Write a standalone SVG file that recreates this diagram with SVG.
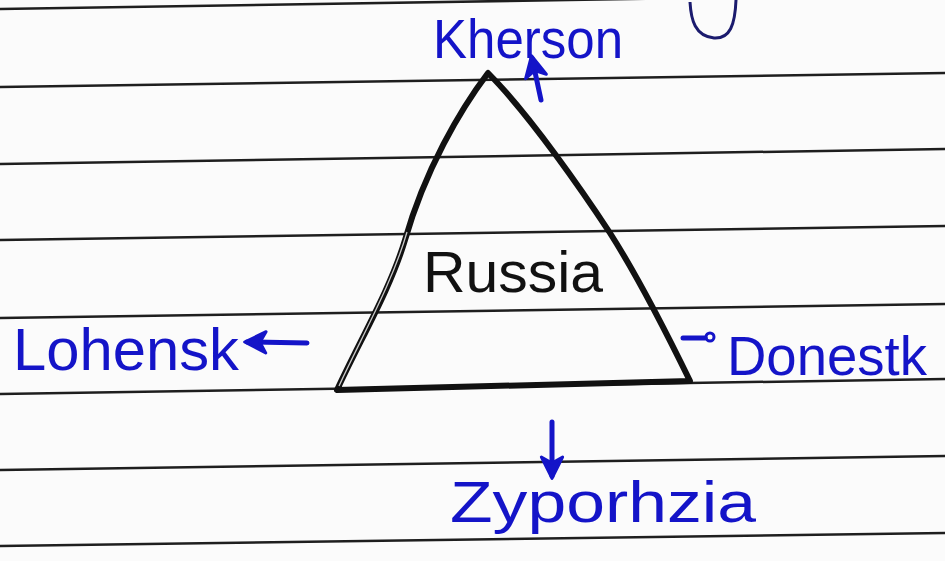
<svg xmlns="http://www.w3.org/2000/svg" width="945" height="561" viewBox="0 0 945 561">
  <style>
    .rule { stroke: #1e1e1e; stroke-width: 2.5; fill: none; }
    .ink { fill: #1414c8; font-family: "Liberation Sans", "DejaVu Sans", sans-serif; }
    .black { fill: #111; font-family: "Liberation Sans", "DejaVu Sans", sans-serif; }
    .arrow { stroke: #1414c8; stroke-width: 5; stroke-linecap: round; fill: none; }
    .tri { stroke: #111; stroke-width: 6; fill: none; stroke-linejoin: round; stroke-linecap: round; }
  </style>
  <defs>
    <marker id="head" markerUnits="userSpaceOnUse" markerWidth="26" markerHeight="26" viewBox="0 0 22 22" refX="18" refY="11" orient="auto">
      <path d="M2,2 L20,11 L2,20 L7,11 Z" fill="#1414c8" stroke="#1414c8" stroke-width="2.5" stroke-linejoin="round"/>
    </marker>
  </defs>
  <rect width="945" height="561" fill="#fbfbfb"/>
  <g id="ruled-paper">
    <line class="rule" x1="0" y1="9" x2="945" y2="-6"/>
    <line class="rule" x1="0" y1="87" x2="945" y2="73"/>
    <line class="rule" x1="0" y1="164" x2="945" y2="149"/>
    <line class="rule" x1="0" y1="240" x2="945" y2="226"/>
    <line class="rule" x1="0" y1="318" x2="945" y2="304"/>
    <line class="rule" x1="0" y1="394" x2="945" y2="379"/>
    <line class="rule" x1="0" y1="470" x2="945" y2="456"/>
    <line class="rule" x1="0" y1="546" x2="945" y2="533"/>
    <path d="M690,2 C691,20 695,36 714,38 C730,39 735,25 736,0" stroke="#1b1b6e" stroke-width="3" fill="none"/>
  </g>
  <g id="russia">
    <path class="tri" d="M488,73 C460,110 425,170 405,240 C390,290 360,340 337,390 L690,381 C670,340 640,280 610,233 C585,195 530,115 488,73 Z"/>
    <path d="M407,232 C392,284 362,336 339,386" stroke="#c8c8c8" stroke-width="1.3" fill="none"/>
    <text class="black" x="423" y="292" font-size="58" textLength="180" lengthAdjust="spacingAndGlyphs">Russia</text>
  </g>
  <g id="kherson">
    <text class="ink" x="433" y="58" font-size="56" textLength="190" lengthAdjust="spacingAndGlyphs">Kherson</text>
  </g>
  <g id="lohensk">
    <text class="ink" x="13" y="370" font-size="60" textLength="226" lengthAdjust="spacingAndGlyphs">Lohensk</text>
  </g>
  <g id="donestk">
    <text class="ink" x="727" y="375" font-size="55" textLength="200" lengthAdjust="spacingAndGlyphs">Donestk</text>
  </g>
  <g id="zyporhzia">
    <text class="ink" x="450" y="522" font-size="58" textLength="306" lengthAdjust="spacingAndGlyphs">Zyporhzia</text>
  </g>
  <g id="connectors">
    <line class="arrow" x1="541" y1="100" x2="532" y2="58" marker-end="url(#head)"/>
    <line class="arrow" x1="307" y1="343" x2="247" y2="342" marker-end="url(#head)"/>
    <line class="arrow" x1="552" y1="422" x2="552" y2="476" marker-end="url(#head)"/>
    <line class="arrow" x1="683" y1="338" x2="705" y2="338"/>
    <circle cx="710" cy="337" r="4" stroke="#1414c8" stroke-width="3" fill="none"/>
  </g>
</svg>
